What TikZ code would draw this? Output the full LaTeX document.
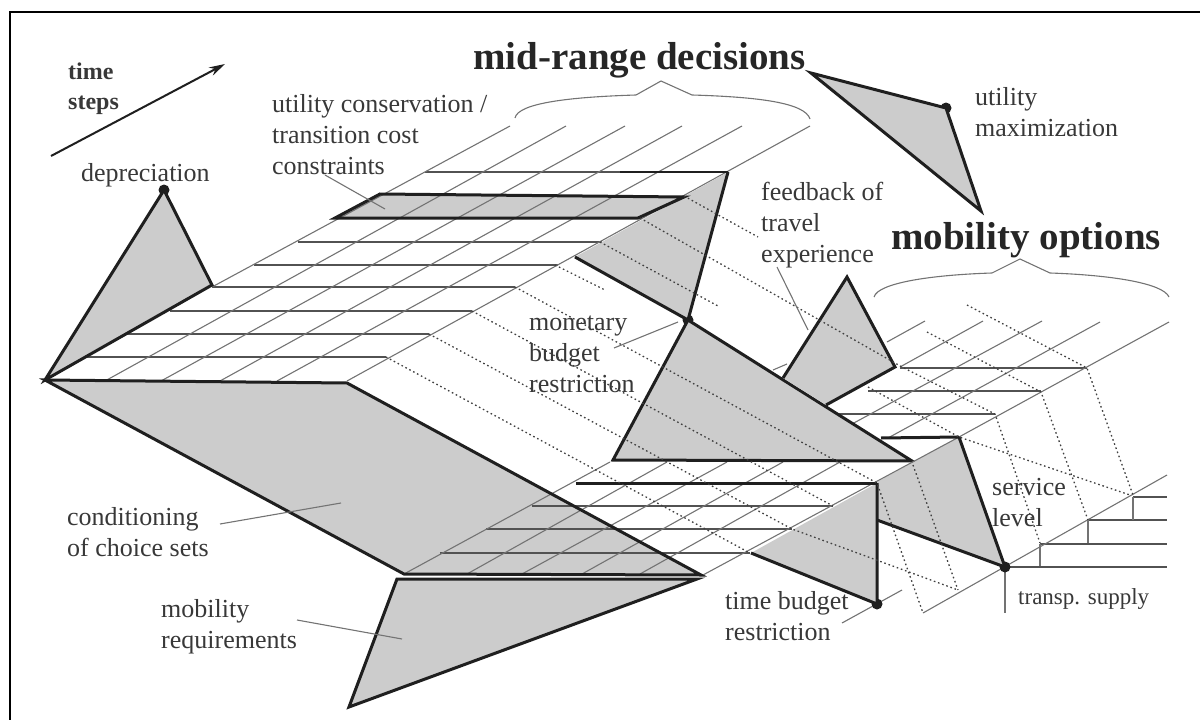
\documentclass[tikz,border=0pt]{standalone}
\usepackage{fontspec}
\setmainfont{Liberation Serif}
\usetikzlibrary{arrows.meta}
\colorlet{panefill}{black!20}
\colorlet{griddark}{black!68}
\colorlet{gridthin}{black!55}
\tikzstyle{pane}=[fill=panefill]
\tikzstyle{edge}=[draw=black!88,line width=3pt,line join=miter]
\tikzstyle{rowline}=[draw=griddark,line width=1.3pt]
\tikzstyle{thinline}=[draw=gridthin,line width=1.1pt]
\tikzstyle{dotline}=[draw=black!75,line width=1.3pt,dash pattern=on 1.6pt off 2.8pt]
\tikzstyle{pin}=[circle,fill=black!88,inner sep=0pt,minimum size=11pt]
\tikzstyle{lbl}=[anchor=base west,inner sep=0pt,align=left,text=black!78,font=\fontsize{26}{31}\selectfont]
\tikzstyle{hdg}=[anchor=base west,inner sep=0pt,text=black!85,font=\fontsize{39}{39}\selectfont\bfseries]

\begin{document}
\begin{tikzpicture}[x=1pt,y=-1pt]
	\useasboundingbox (0,0) rectangle (1200,720);
	\draw[black,line width=2.6pt] (10,720) -- (10,12) -- (1200,12);
	\coordinate (origin) at (45,380);
	\coordinate (midcorner) at (347,383);
	\coordinate (cond) at (404,574);
	\coordinate (condend) at (701,575);
	\fill[pane] (origin) -- (midcorner) -- (condend) -- (cond) -- cycle;
	\fill[pane] (335,218) -- (380,194) -- (684,197) -- (638,218) -- cycle;
	% mid-range grid
	\foreach \xa/\xb/\ya in {425/620/172,298/602/242,254/558/265,212/515/287,170/472/311,125/429/334,85/386/357}
		\draw[rowline] (\xa,\ya) -- (\xb,\ya);
	\foreach \xa/\xb in {105/566,161/625,220/682,277/742,347/810}
		\draw[thinline] (\xa,381) -- (\xb,126);
	\draw[thinline] (212,287) -- (510,126);
	% lower grid
	\foreach \xa/\xb/\ya in {532/833/506,486/792/529,440/750/553}
		\draw[rowline] (\xa,\ya) -- (\xb,\ya);
	\foreach \xa/\xb in {404/610,467/667,522/727,582/783,640/840}
		\draw[thinline] (\xa,574) -- (\xb,462);
	% mobility grid
	\foreach \xa/\xb/\ya in {900/1087/368,868/1041/391,837/995/414}
		\draw[rowline] (\xa,\ya) -- (\xb,\ya);
	\draw[thinline] (925,321) -- (887,342);
	\draw[thinline] (983,321) -- (900,367);
	\draw[thinline] (1042,321) -- (852,424);
	\draw[thinline] (1100,322) -- (888,438);
	\draw[thinline] (1169,322) -- (959,437);
	\draw[thinline] (773,370) -- (787,364);
	% supply steps
	\coordinate (supply) at (1005,567);
	\foreach \xa/\ya in {1005/567,1040/544,1088/520,1133/497}
		\draw[rowline] (\xa,\ya) -- (1167,\ya);
	\draw[thinline] (923,613) -- (1167,475);
	\draw[thinline] (supply) -- (1005,613);
	\draw[thinline] (1040,544) -- (1040,566);
	\draw[thinline] (1088,520) -- (1088,543);
	\draw[thinline] (1133,497) -- (1133,520);
	\draw[thinline] (842,623) -- (902,590);
	% triangles
	\node[pin] (deprec) at (164,190) {};
	\node[pin] (monet) at (688,320) {};
	\node[pin] (timeb) at (877,604) {};
	\node[pin] (service) at (1005,567) {};
	\node[pin] (maxim) at (946,108) {};
	\coordinate (maxa) at (811,73);
	\coordinate (maxb) at (981,211);
	\filldraw[pane,edge] (origin) -- (deprec.center) -- (212,285) -- cycle;
	\filldraw[pane,edge] (maxa) -- (maxim.center) -- (maxb) -- cycle;
	\fill[pane] (728,172) -- (monet.center) -- (575,257) -- cycle;
	\draw[edge] (monet.center) -- (728,172);
	\filldraw[pane,edge] (monet.center) -- (912,461) -- (613,460) -- cycle;
	\filldraw[pane,edge] (783,378) -- (847,277) -- (895,367) -- (826,405);
	\fill[pane] (877,482) -- (959,437) -- (service.center) -- (877,520) -- cycle;
	\draw[edge] (959,437) -- (service.center) -- (877,520);
	\fill[pane] (877,483) -- (timeb.center) -- (751,553) -- cycle;
	\draw[edge] (877,483) -- (timeb.center) -- (751,553);
	\filldraw[pane,edge] (397,579) -- (697,579) -- (349,707) -- cycle;
	\draw[thinline] (703,575) -- (959,437);
	% thick lines
	\draw[edge] (origin) -- (midcorner) -- (condend) -- (cond) -- cycle;
	\draw[edge] (575,257) -- (monet.center);
	\draw[edge] (335,218) -- (380,194) -- (684,197) -- (638,218) -- cycle;
	\draw[edge,line width=2pt] (620,172) -- (728,172);
	\draw[edge] (576,483) -- (877,483);
	\draw[edge] (881,438) -- (959,437);
	% dotted links
	\draw[dotline] (386,357) -- (750,553);
	\draw[dotline] (429,334) -- (792,529) -- (958,590);
	\draw[dotline] (472,311) -- (833,506);
	\draw[dotline] (515,287) -- (877,483) -- (923,613);
	\draw[dotline] (555,265) -- (605,290);
	\draw[dotline] (913,465) -- (958,590);
	\draw[dotline] (600,242) -- (718,306);
	\draw[dotline] (868,387) -- (959,437) -- (1130,495);
	\draw[dotline] (640,218) -- (902,367) -- (995,414) -- (1040,543);
	\draw[dotline] (684,196) -- (758,237);
	\draw[dotline] (927,332) -- (1041,392) -- (1088,520);
	\draw[dotline] (967,305) -- (1087,368) -- (1133,495);
	% braces
	\draw[thinline] (515,118) .. controls (518,103) and (570,97) .. (636,95) -- (661,81) -- (692,95) .. controls (760,97) and (805,103) .. (810,119);
	\draw[thinline] (874,297) .. controls (878,283) and (930,275) .. (992,273) -- (1020,259) -- (1050,273) .. controls (1110,275) and (1163,283) .. (1169,297);
	% time arrow
	\coordinate (timea) at (51,156);
	\coordinate (timeb2) at (225,64);
	\draw[black!88,line width=2pt,-{Stealth[length=16pt,width=9pt]}] (timea) -- (timeb2);
	% labels
	\node[hdg] (midrange) at (473,69) {mid-range decisions};
	\node[hdg] (mobopt) at (891,249) {mobility options};
	\node[lbl,font=\fontsize{24}{30}\selectfont\bfseries] (timesteps) at (68,109) {time\\steps};
	\node[lbl] (deptext) at (81,181) {depreciation};
	\node[lbl] (utilcons) at (272,174) {utility conservation /\\transition cost\\constraints};
	\node[lbl] (monetext) at (529,392) {monetary\\budget\\restriction};
	\node[lbl] (feedb) at (761,262) {feedback of\\travel\\experience};
	\node[lbl] (utilmax) at (975,136) {utility\\maximization};
	\node[lbl] (condtext) at (67,556) {conditioning\\of choice sets};
	\node[lbl] (mobreq) at (161,648) {mobility\\requirements};
	\node[lbl] (timetext) at (725,640) {time budget\\restriction};
	\node[lbl] (servtext) at (992,526) {service\\level};
	\node[lbl,font=\fontsize{23}{28}\selectfont] (transp) at (1018,604) {transp. supply};
	% pointers
	\draw[thinline] (325,175) -- (385,209);
	\draw[thinline] (777,267) -- (808,330);
	\draw[thinline] (614,348) -- (678,322);
	\draw[thinline] (220,524) -- (341,503);
	\draw[thinline] (297,620) -- (402,639);
\end{tikzpicture}
\end{document}
